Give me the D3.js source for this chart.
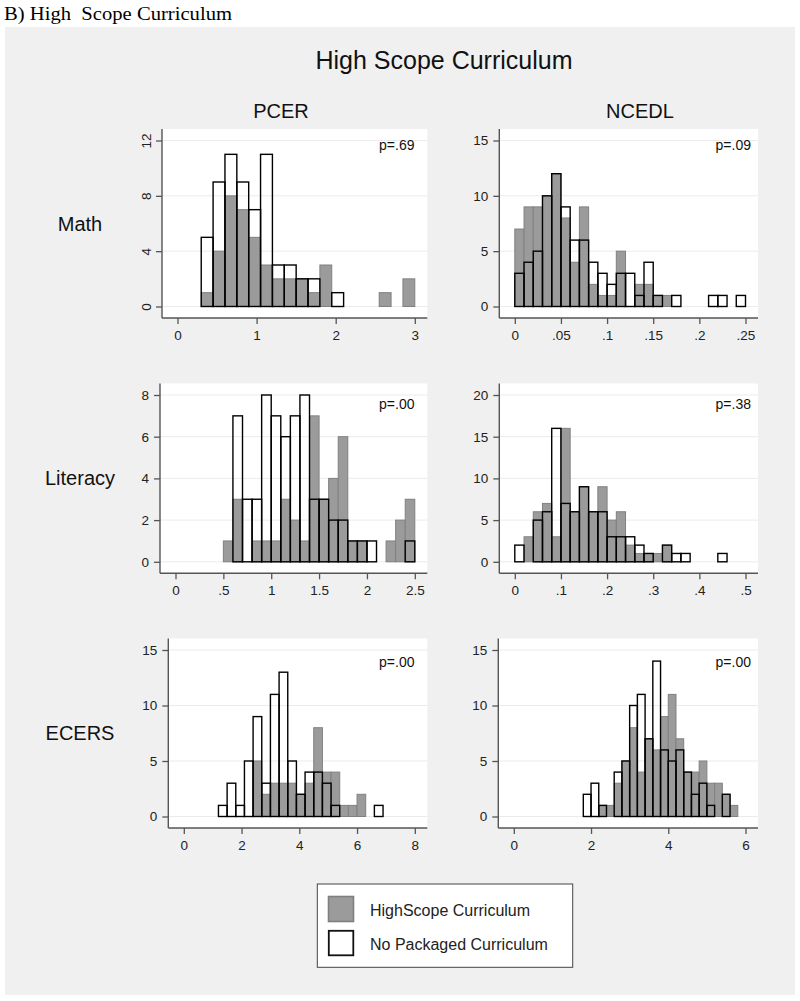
<!DOCTYPE html>
<html>
<head>
<meta charset="utf-8">
<script src="https://cdn.jsdelivr.net/npm/d3@7"></script>
<style>
  html, body { margin: 0; padding: 0; background: #fff; }
  svg { display: block; font-family: "Liberation Sans", Arial, Helvetica, sans-serif; }
</style>
</head>
<body>
<div id="chart"></div>
<script>
// bin counts: HS = HighScope (gray), NP = no packaged curriculum (outline)
const mathPcerBins = [0.3, 0.15];            // [first bin start, bin width]
const mathPcerHS = [1, 4, 8, 7, 5, 3, 2, 2, 2, 1, 3, 0, 0, 0, 0, 1, 0, 2];
const mathPcerNP = [5, 9, 11, 9, 7, 11, 3, 3, 2, 2, 0, 1];

const mathNcedlBins = [0, 0.01];
const mathNcedlHS = [7, 9, 9, 10, 12, 8, 4, 9, 2, 1, 1, 5, 0, 2, 2, 1, 1];
const mathNcedlNP = [3, 4, 5, 10, 12, 9, 6, 6, 4, 3, 2, 3, 3, 1, 4, 1, 0, 1, 0, 0, 0, 1, 1, 0, 1];

const litPcerBins = [0.5, 0.1];
const litPcerHS = [1, 3, 0, 1, 1, 1, 3, 2, 1, 7, 3, 4, 6, 1, 1, 0, 0, 1, 2, 3];
const litPcerNP = [0, 7, 3, 3, 8, 7, 6, 7, 8, 3, 3, 2, 2, 1, 1, 1, 0, 0, 0, 1];

const litNcedlBins = [0, 0.02];
const litNcedlHS = [0, 3, 6, 7, 3, 16, 6, 9, 6, 9, 5, 6, 2, 1, 1, 1, 2];
const litNcedlNP = [2, 0, 5, 6, 16, 7, 6, 9, 6, 6, 3, 3, 3, 2, 1, 0, 2, 1, 1, 0, 0, 0, 1];

const ecersPcerBins = [1.2, 0.3];
const ecersPcerHS = [0, 0, 0, 0, 5, 2, 3, 3, 3, 2, 3, 8, 4, 4, 1, 1, 2];
const ecersPcerNP = [1, 3, 1, 5, 9, 3, 11, 13, 5, 2, 4, 4, 3, 1, 0, 0, 0, 0, 1];

const ecersNcedlBins = [1.8, 0.2];
const ecersNcedlHS = [0, 0, 1, 1, 3, 5, 8, 4, 7, 6, 9, 11, 7, 4, 4, 5, 3, 3, 2, 1];
const ecersNcedlNP = [2, 3, 1, 0, 4, 5, 10, 11, 7, 14, 6, 5, 6, 4, 2, 3, 1, 0, 2, 0];

const xTicks = [[0, 1, 2, 3], [0, .05, .1, .15, .2, .25], [0, .5, 1, 1.5, 2, 2.5],
                [0, .1, .2, .3, .4, .5], [0, 2, 4, 6, 8], [0, 2, 4, 6]];
const yTicks = [[0, 4, 8, 12], [0, 5, 10, 15], [0, 2, 4, 6, 8],
                [0, 5, 10, 15, 20], [0, 5, 10, 15], [0, 5, 10, 15]];
const pValues = ["p=.69", "p=.09", "p=.00", "p=.38", "p=.00", "p=.00"];
const colNames = ["PCER", "NCEDL"];
const rowNames = ["Math", "Literacy", "ECERS"];
const legendLabels = ["HighScope Curriculum", "No Packaged Curriculum"];

const panels = [
  { bins: mathPcerBins, hs: mathPcerHS, np: mathPcerNP },
  { bins: mathNcedlBins, hs: mathNcedlHS, np: mathNcedlNP },
  { bins: litPcerBins, hs: litPcerHS, np: litPcerNP },
  { bins: litNcedlBins, hs: litNcedlHS, np: litNcedlNP },
  { bins: ecersPcerBins, hs: ecersPcerHS, np: ecersPcerNP },
  { bins: ecersNcedlBins, hs: ecersNcedlHS, np: ecersNcedlNP }
];

// layout
const W = 800, H = 1001;
const panelLeft = [162, 499.3, 160, 499.3, 168.3, 498.3];
const colRight = [427.3, 758];
const rowTop = [129, 383.5, 638.5];
const rowBottom = [318, 573.3, 828];
const pBaseline = [150, 409, 667];
const pRight = [414.5, 751];
const colTitleX = [281, 640];
const grayFill = "#9b9b9b", grayLine = "#808080", axisColor = "#555";

const svg = d3.select("#chart").append("svg").attr("width", W).attr("height", H);

svg.append("text").attr("x", 4).attr("y", 20)
  .attr("font-family", "'Liberation Serif', 'Times New Roman', serif")
  .attr("font-size", 18).attr("textLength", 228).attr("lengthAdjust", "spacingAndGlyphs")
  .attr("fill", "#000").attr("xml:space", "preserve")
  .text("B) High  Scope Curriculum");

svg.append("rect").attr("x", 5).attr("y", 27).attr("width", 790).attr("height", 968).attr("fill", "#f0f0f0");

svg.append("text").attr("x", 444).attr("y", 69).attr("text-anchor", "middle")
  .attr("font-size", 25).attr("fill", "#111").text("High Scope Curriculum");

colNames.forEach((c, i) => {
  svg.append("text").attr("x", colTitleX[i]).attr("y", 118).attr("text-anchor", "middle")
    .attr("font-size", 20).attr("fill", "#111").text(c);
});
rowNames.forEach((r, i) => {
  svg.append("text").attr("x", 80).attr("y", (rowTop[i] + rowBottom[i]) / 2)
    .attr("dy", "0.35em").attr("text-anchor", "middle")
    .attr("font-size", 20).attr("fill", "#111").text(r);
});

const fmt = d => d === 0 ? "0" : String(d).replace(/^0\./, ".");

panels.forEach((p, k) => {
  const col = k % 2, row = Math.floor(k / 2);
  const L = panelLeft[k], R = colRight[col], T = rowTop[row], B = rowBottom[row];
  const xt = xTicks[k], yt = yTicks[k];

  const x = d3.scaleLinear().domain([xt[0], xt[xt.length - 1]]).range([L + 15.5, R - 12.5]);
  const y = d3.scaleLinear().domain([0, yt[yt.length - 1]]).range([B - 11.5, T + 11.5]);

  const g = svg.append("g");
  g.append("rect").attr("x", L).attr("y", T).attr("width", R - L).attr("height", B - T).attr("fill", "#fff");

  g.selectAll(".grid").data(yt).join("line")
    .attr("x1", L).attr("x2", R).attr("y1", d => y(d)).attr("y2", d => y(d))
    .attr("stroke", "#ebebeb").attr("stroke-width", 1);

  const [start, bw] = p.bins;
  const toBars = arr => arr.map((n, i) => ({ x0: start + i * bw, x1: start + (i + 1) * bw, n })).filter(b => b.n > 0);

  g.selectAll(".hs").data(toBars(p.hs)).join("rect")
    .attr("x", d => x(d.x0)).attr("width", d => x(d.x1) - x(d.x0))
    .attr("y", d => y(d.n)).attr("height", d => y(0) - y(d.n))
    .attr("fill", grayFill).attr("stroke", grayLine).attr("stroke-width", 1);

  g.selectAll(".np").data(toBars(p.np)).join("rect")
    .attr("x", d => x(d.x0)).attr("width", d => x(d.x1) - x(d.x0))
    .attr("y", d => y(d.n)).attr("height", d => y(0) - y(d.n))
    .attr("fill", "none").attr("stroke", "#000").attr("stroke-width", 1.4);

  const ya = g.append("g").attr("transform", `translate(${L},0)`)
    .call(d3.axisLeft(y).tickValues(yt).tickFormat(fmt).tickSize(6).tickPadding(5));
  const xa = g.append("g").attr("transform", `translate(0,${B})`)
    .call(d3.axisBottom(x).tickValues(xt).tickFormat(fmt).tickSize(6).tickPadding(6));
  [ya, xa].forEach(a => {
    a.select(".domain").remove();
    a.selectAll("line").attr("stroke", axisColor).attr("stroke-width", 1.3);
    a.selectAll("text").attr("font-size", 13.5).attr("fill", "#222")
      .attr("font-family", "'Liberation Sans', Arial, sans-serif");
  });
  if (k === 0) {
    ya.selectAll("text").attr("transform", "rotate(-90)")
      .attr("x", 0).attr("y", -11).attr("dy", 0).attr("text-anchor", "middle");
  }
  g.append("line").attr("x1", L).attr("x2", L).attr("y1", T).attr("y2", B)
    .attr("stroke", axisColor).attr("stroke-width", 1.4);
  g.append("line").attr("x1", L).attr("x2", R).attr("y1", B).attr("y2", B)
    .attr("stroke", axisColor).attr("stroke-width", 1.4);

  g.append("text").attr("x", pRight[col]).attr("y", pBaseline[row]).attr("text-anchor", "end")
    .attr("font-size", 14).attr("fill", "#111").text(pValues[k]);
});

// legend
const lg = svg.append("g");
lg.append("rect").attr("x", 317.3).attr("y", 884).attr("width", 255.4).attr("height", 83.3)
  .attr("fill", "#fff").attr("stroke", "#444").attr("stroke-width", 1);
lg.append("rect").attr("x", 328.5).attr("y", 896.5).attr("width", 25).attr("height", 25)
  .attr("fill", grayFill).attr("stroke", grayLine).attr("stroke-width", 1.6);
lg.append("rect").attr("x", 328.8).attr("y", 930.8).attr("width", 24.5).attr("height", 24.5)
  .attr("fill", "#fff").attr("stroke", "#111").attr("stroke-width", 1.8);
legendLabels.forEach((t, i) => {
  lg.append("text").attr("x", 370).attr("y", 915.5 + i * 34.5)
    .attr("font-size", 16).attr("fill", "#222").text(t);
});
</script>
</body>
</html>
